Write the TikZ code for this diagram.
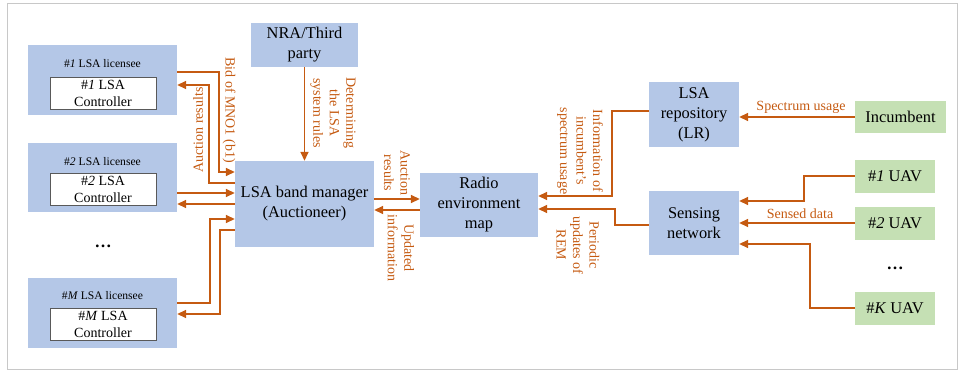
\documentclass[tikz,border=0pt]{standalone}
\usepackage{fontspec}
\setmainfont{Liberation Serif}
\usetikzlibrary{arrows.meta}
\definecolor{boxblue}{HTML}{B4C7E7}
\definecolor{boxgreen}{HTML}{C5E0B4}
\definecolor{linkorange}{HTML}{C55A11}
\definecolor{framegrey}{HTML}{C8C8C8}
\tikzset{
  bluebox/.style={fill=boxblue, draw=none, inner sep=0pt, align=center,
    font=\fontsize{16.4}{20}\selectfont},
  greenbox/.style={fill=boxgreen, draw=none, inner sep=0pt, align=center,
    font=\fontsize{16.4}{20}\selectfont},
  ctrlbox/.style={fill=white, draw=black!65, line width=0.9pt, inner sep=0pt,
    align=center, minimum width=106pt, minimum height=32pt,
    font=\fontsize{14}{17}\selectfont},
  smalltitle/.style={font=\fontsize{11.6}{14}\selectfont, inner sep=0pt},
  flow/.style={draw=linkorange, line width=1.6pt,
    -{Triangle[length=9pt,width=8pt]}},
  flowlabel/.style={text=linkorange, align=center, inner sep=0pt,
    font=\fontsize{14}{16.5}\selectfont},
  dotsnode/.style={font=\fontsize{17}{20}\selectfont\bfseries, inner sep=0pt, anchor=base}
}
\begin{document}
\begin{tikzpicture}[x=1pt,y=-1pt]
\useasboundingbox (0,0) rectangle (959,372);
\draw[framegrey, line width=1pt] (7.5,3) rectangle (957.5,369);

% LSA licensees with their controllers
\node[bluebox, minimum width=149pt, minimum height=70pt] (L1) at (102.5,80) {};
\node[smalltitle] (L1t) at (102.5,64) {\#\textit{1} LSA licensee};
\node[ctrlbox] (C1) at (103,93) {\#\textit{1} LSA\\Controller};

\node[bluebox, minimum width=149pt, minimum height=69pt] (L2) at (102.5,177.5) {};
\node[smalltitle] (L2t) at (102.5,162) {\#\textit{2} LSA licensee};
\node[ctrlbox] (C2) at (103,189.5) {\#\textit{2} LSA\\Controller};

\node[dotsnode] (Ldots) at (103,247) {…};

\node[bluebox, minimum width=149pt, minimum height=70pt] (LM) at (102.5,313) {};
\node[smalltitle] (LMt) at (102.5,296) {\#\textit{M} LSA licensee};
\node[ctrlbox] (CM) at (103,324) {\#\textit{M} LSA\\Controller};

% central entities
\node[bluebox, minimum width=107pt, minimum height=44pt] (NRA) at (304.5,45) {NRA/Third\\party};
\node[bluebox, minimum width=139pt, minimum height=86pt] (MGR) at (304.5,204) {LSA band manager\\(Auctioneer)};
\node[bluebox, minimum width=118pt, minimum height=64pt] (REM) at (479,205) {Radio\\environment\\map};
\node[bluebox, minimum width=90pt, minimum height=65pt] (LR) at (694,114.5) {LSA\\repository\\(LR)};
\node[bluebox, minimum width=90pt, minimum height=64pt] (SN) at (694,223) {Sensing\\network};

% incumbent and UAVs
\node[greenbox, minimum width=91pt, minimum height=32pt] (INC) at (900.5,117) {Incumbent};
\node[greenbox, minimum width=80pt, minimum height=33pt] (U1) at (895,176) {\#\textit{1} UAV};
\node[greenbox, minimum width=80pt, minimum height=33pt] (U2) at (895,223) {\#\textit{2} UAV};
\node[dotsnode] (Udots) at (895,269) {…};
\node[greenbox, minimum width=80pt, minimum height=33pt] (UK) at (895,308) {\#\textit{K} UAV};

% licensees <-> band manager
\draw[flow] (L1.east |- 0,72) -- (219,72) -- (219,172) -- (MGR.west |- 0,172);
\draw[flow] (MGR.west |- 0,183) -- (209,183) -- (209,85) -- (L1.east |- 0,85);
\draw[flow] (L2.east |- 0,193) -- (MGR.west |- 0,193);
\draw[flow] (MGR.west |- 0,204) -- (L2.east |- 0,204);
\draw[flow] (LM.east |- 0,303) -- (210,303) -- (210,219) -- (MGR.west |- 0,219);
\draw[flow] (MGR.west |- 0,230) -- (220,230) -- (220,314) -- (LM.east |- 0,314);
\node[flowlabel, rotate=-90] (bidlbl) at (229,110) {Bid of MNO1 (b1)};
\node[flowlabel, rotate=90] (auclbl) at (198,130) {Auction results};

% regulator -> band manager
\draw[flow] (NRA.south) -- (MGR.north);
\node[flowlabel, rotate=-90] (rulelbl) at (333,113) {Determining\\the LSA\\system rules};

% band manager <-> REM
\draw[flow] (MGR.east |- 0,199) -- (REM.west |- 0,199);
\draw[flow] (REM.west |- 0,210) -- (MGR.east |- 0,210);
\node[flowlabel, rotate=-90] (res2lbl) at (397,173) {Auction\\results};
\node[flowlabel, rotate=-90] (updlbl) at (401,248) {Updated\\information};

% repository and sensing network -> REM
\draw[flow] (LR.west |- 0,111) -- (612,111) -- (612,196) -- (REM.east |- 0,196);
\draw[flow] (SN.west |- 0,225) -- (615,225) -- (615,209) -- (REM.east |- 0,209);
\node[flowlabel, rotate=-90] (infolbl) at (580,151) {Information of\\incumbent's\\spectrum usage};
\node[flowlabel, rotate=-90] (perlbl) at (578,245) {Periodic\\updates of\\REM};

% incumbent -> repository
\draw[flow] (INC.west) -- (LR.east |- INC.west);
\node[flowlabel] (speclbl) at (801,107) {Spectrum usage};

% UAVs -> sensing network
\draw[flow] (U1.west) -- (804,176) -- (804,201) -- (SN.east |- 0,201);
\draw[flow] (U2.west) -- (SN.east |- U2.west);
\draw[flow] (UK.west) -- (810,308) -- (810,244) -- (SN.east |- 0,244);
\node[flowlabel] (senslbl) at (800,214) {Sensed data};
\end{tikzpicture}
\end{document}
